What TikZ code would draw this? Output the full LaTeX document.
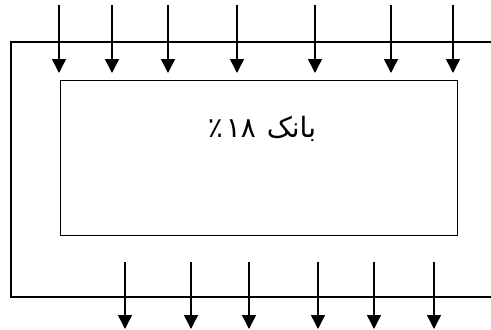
\documentclass[tikz,border=0pt]{standalone}
\usepackage{fontspec}
\newfontfamily\arabicfont[Script=Arabic]{DejaVu Sans}
\TeXXeTstate=1
\usetikzlibrary{arrows.meta}

\begin{document}
\begin{tikzpicture}[
  x=1pt, y=-1pt,
  wall/.style={line width=1.4pt, draw=black},
  bankbox/.style={draw=black, line width=0.9pt, minimum width=397pt, minimum height=155pt, inner sep=0pt},
  label/.style={font=\arabicfont\fontsize{28}{34}\selectfont, inner sep=0pt},
  flow/.style={-{Triangle[length=14pt,width=14pt]}, line width=1.4pt}
]
  \useasboundingbox (0,0) rectangle (491,330);
  % outer channel, open to the right
  \draw[wall] (491,42) -- (11,42) -- (11,297) -- (491,297);
  \node[bankbox] (bank) at (258.5,157.5) {};
  \node[label] (share) at (262,129) {\beginR بانک\hspace{2pt} ۱۸\kern3pt ٪\endR};
  % inflows from the top
  \foreach \i/\x in {1/59,2/112,3/168,4/237,5/315,6/391,7/453} {
    \coordinate (in\i) at (\x,5);
    \coordinate (in\i tip) at (\x,73);
    \draw[flow] (in\i) -- (in\i tip);
  }
  % outflows at the bottom
  \foreach \i/\x in {1/125,2/191,3/249,4/318,5/374,6/434} {
    \coordinate (out\i) at (\x,262);
    \coordinate (out\i tip) at (\x,329);
    \draw[flow] (out\i) -- (out\i tip);
  }
\end{tikzpicture}
\end{document}
